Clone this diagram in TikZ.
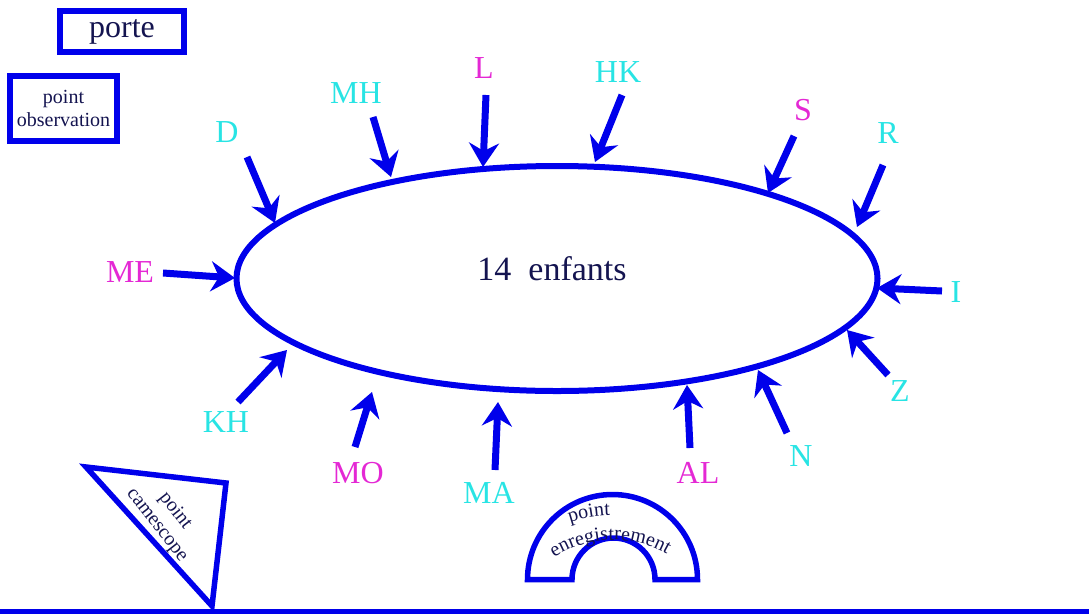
\documentclass[tikz,border=0pt]{standalone}
\usepackage{fontspec}
\setmainfont{Liberation Serif}
\usetikzlibrary{arrows.meta,shapes.geometric,decorations.text}
\definecolor{bl}{RGB}{0,0,235}
\definecolor{cyn}{RGB}{40,228,228}
\definecolor{mgt}{RGB}{228,40,212}
\definecolor{navy}{RGB}{20,20,80}
\begin{document}
\begin{tikzpicture}[x=1pt,y=-1pt,
  lab/.style={inner sep=0pt, font=\fontsize{32}{36}\selectfont},
  cy/.style={lab, text=cyn},
  mg/.style={lab, text=mgt},
  arr/.style={draw=bl, line width=7pt, -{Stealth[length=24pt,width=30pt,inset=8pt]}},
  boxx/.style={draw=bl, line width=6.5pt, inner sep=0pt, text=navy},
  small/.style={font=\fontsize{20}{23}\selectfont, text=navy}
]
\useasboundingbox (0,0) rectangle (1089,614);
% central ellipse
\node[ellipse, draw=bl, line width=6pt, minimum width=641pt, minimum height=225pt, inner sep=0pt] (enf) at (557,278.5) {};
\node[text=navy, inner sep=0pt, font=\fontsize{34}{38}\selectfont] (cnt) at (552,269) {14~~enfants};
% boxes
\node[boxx, minimum width=124pt, minimum height=41pt, font=\fontsize{32}{36}\selectfont] (porte) at (122,31.5) {porte};
\node[boxx, small, minimum width=107pt, minimum height=65pt, align=center] (obs) at (63.5,108.5) {point\\observation};
% labels
\node[cy] (lD) at (227,132) {D};
\node[mg] (lME) at (130,272) {ME};
\node[cy] (lMH) at (356,93) {MH};
\node[mg] (lL) at (484,68) {L};
\node[cy] (lHK) at (618,72) {HK};
\node[mg] (lS) at (803,110) {S};
\node[cy] (lR) at (888,133) {R};
\node[cy] (lI) at (956,292) {I};
\node[cy] (lZ) at (900,391) {Z};
\node[cy] (lN) at (801,456) {N};
\node[mg] (lAL) at (698,473) {AL};
\node[cy] (lMA) at (489,493) {MA};
\node[mg] (lMO) at (358,473) {MO};
\node[cy] (lKH) at (226,422) {KH};
% arrow ends
\coordinate (sD) at (247,157);  \coordinate (tD) at (275,223);
\coordinate (sME) at (163,273); \coordinate (tME) at (235,278);
\coordinate (sMH) at (373,117); \coordinate (tMH) at (391,177);
\coordinate (sL) at (486,95);   \coordinate (tL) at (483,167);
\coordinate (sHK) at (622,95);  \coordinate (tHK) at (595,162);
\coordinate (sS) at (794,136);  \coordinate (tS) at (768,193);
\coordinate (sR) at (883,165);  \coordinate (tR) at (857,227);
\coordinate (sI) at (942,291);  \coordinate (tI) at (877,288);
\coordinate (sZ) at (888,375);  \coordinate (tZ) at (847,330);
\coordinate (sN) at (787,433);  \coordinate (tN) at (758,370);
\coordinate (sAL) at (690,448); \coordinate (tAL) at (687,385);
\coordinate (sMA) at (495,470); \coordinate (tMA) at (498,402);
\coordinate (sMO) at (355,447); \coordinate (tMO) at (372,392);
\coordinate (sKH) at (238,402); \coordinate (tKH) at (287,350);
\foreach \n in {D,ME,MH,L,HK,S,R,I,Z,N,AL,MA,MO,KH}
  \draw[arr] (s\n) -- (t\n);
% camescope triangle
\draw[bl, line width=5.5pt, line join=miter] (86,467) -- (226,483) -- (212,606) -- cycle;
\node[small, rotate=-52, align=center, inner sep=0pt] (cam) at (166,518) {point\\camescope};
% recording arch
\draw[bl, line width=5.5pt, line join=miter] (527.5,579.5) arc[start angle=180, end angle=0, radius=85pt]
  -- (655,579.5) arc[start angle=0, end angle=180, radius=41.5pt] -- cycle;
\path[decorate, decoration={text along path, text align=center,
  text={|\fontsize{20}{24}\selectfont\color{navy}|enregistrement}}]
  ([shift={(613,649)}]128:109pt) arc[start angle=128, end angle=55, radius=109pt];
\path[decorate, decoration={text along path, text align=center,
  text={|\fontsize{20}{24}\selectfont\color{navy}|point}}]
  ([shift={(613,649)}]118:134pt) arc[start angle=118, end angle=82, radius=134pt];
% floor line
\coordinate (fl) at (0,611); \coordinate (fr) at (1089,611);
\draw[bl, line width=5pt] (fl) -- (fr);
\end{tikzpicture}
\end{document}
